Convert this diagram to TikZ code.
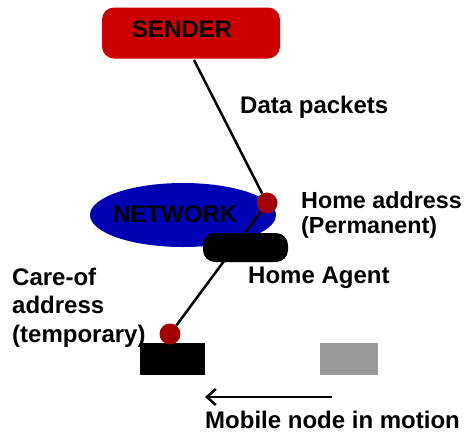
\documentclass[tikz,border=0pt]{standalone}
\usepackage{fontspec}
\setmainfont{Liberation Sans}
\usetikzlibrary{arrows.meta,shapes.geometric}
\definecolor{senderred}{HTML}{CC0000}
\definecolor{netblue}{HTML}{0000B4}
\definecolor{dotred}{HTML}{A00000}
\definecolor{nodegray}{HTML}{999999}
\begin{document}
\begin{tikzpicture}[x=1pt,y=-1pt,
  lbl/.style={inner sep=0pt,anchor=base west,font=\fontsize{24}{28}\selectfont\bfseries},
  ctext/.style={inner sep=0pt,anchor=base,font=\fontsize{24}{28}\selectfont\bfseries},
  link/.style={line width=2.5pt,black},
  dotmark/.style={circle,fill=dotred,inner sep=0pt,minimum size=21pt},
  block/.style={inner sep=0pt,outer sep=0pt}]
\useasboundingbox (0,0) rectangle (464,432);

% sender
\node[block,fill=senderred,rounded corners=12pt,minimum width=178pt,minimum height=51pt] (sender) at (191,33) {};
\node[ctext] (sendertext) at (182,37) {SENDER};
\coordinate (senderout) at (194,60);

% network cloud
\node[block,ellipse,fill=netblue,minimum width=186pt,minimum height=64pt] (network) at (183,215) {};
\node[ctext] (networktext) at (175,222) {NETWORK};

% mobile node positions
\node[block,fill=black,minimum width=65pt,minimum height=32pt] (mobile) at (172.5,359) {};
\node[block,fill=nodegray,minimum width=58pt,minimum height=32pt] (oldpos) at (349,359) {};

% address points
\node[dotmark] (homedot) at (267,203) {};
\node[dotmark] (caredot) at (170,334) {};

% connectors
\draw[link] (senderout) -- (homedot);
\draw[link] (homedot) -- (caredot);

% home agent on top of the connector
\node[block,fill=black,rounded corners=12pt,minimum width=85pt,minimum height=29pt] (agent) at (245.5,247.5) {};

% motion arrow
\coordinate (motionstart) at (332,397);
\coordinate (motionend) at (205,397);
\draw[link,-{Straight Barb[length=9pt,width=16pt,line width=2.5pt]}] (motionstart) -- (motionend);

% labels
\node[lbl] (datapackets) at (240,113) {Data packets};
\node[lbl,font=\fontsize{23.3}{28}\selectfont\bfseries] (homeaddr1) at (301,208) {Home address};
\node[lbl,font=\fontsize{23.3}{28}\selectfont\bfseries] (homeaddr2) at (301,233) {(Permanent)};
\node[lbl] (agentlabel) at (248,283) {Home Agent};
\node[lbl] (care1) at (12,285) {Care-of};
\node[lbl] (care2) at (12,313) {address};
\node[lbl] (care3) at (12,342) {(temporary)};
\node[lbl] (motionlabel) at (205,428) {Mobile node in motion};
\end{tikzpicture}
\end{document}
